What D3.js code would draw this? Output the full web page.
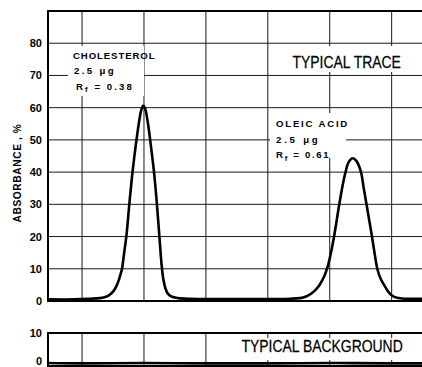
<!DOCTYPE html>
<html>
<head>
<meta charset="utf-8">
<script src="https://cdn.jsdelivr.net/npm/d3@7"></script>
<style>
  html, body { margin: 0; padding: 0; background: #fff; }
  svg { display: block; }
</style>
</head>
<body>
<svg id="chart" width="422" height="367"></svg>
<script>
// ---- data ----
const xGrid = [1, 2, 3, 4, 5, 6];                 // vertical grid positions (scan units)
const yTicksTop = [0, 10, 20, 30, 40, 50, 60, 70, 80];
const yTicksBottom = [0, 10];
// typical trace (position in scan units, absorbance %)
const traceX = [0.45, 0.886, 1.128, 1.290, 1.387, 1.451, 1.516, 1.564, 1.605, 1.645, 1.677, 1.718, 1.763, 1.818, 1.879, 1.928, 1.960, 1.989, 2.017, 2.057, 2.113, 2.162, 2.205, 2.247, 2.286, 2.315, 2.348, 2.388, 2.453, 2.549, 2.743, 3.712, 4.358, 4.520, 4.617, 4.709, 4.778, 4.843, 4.907, 4.964, 5.020, 5.074, 5.154, 5.214, 5.255, 5.303, 5.371, 5.432, 5.505, 5.545, 5.594, 5.678, 5.731, 5.768, 5.820, 5.884, 5.941, 6.006, 6.086, 6.215, 6.49];
const traceY = [0.5, 0.5, 0.7, 0.9, 1.3, 2.0, 3.3, 5.0, 7.2, 10, 14.5, 20.5, 30, 40.5, 50, 56.5, 59.5, 60.6, 59.8, 56, 48, 40, 31, 20.5, 11, 6.5, 3.8, 2.2, 1.3, 0.9, 0.7, 0.6, 0.7, 0.9, 1.4, 2.4, 3.6, 5.2, 7.5, 10.5, 15, 20.5, 30, 36.5, 40, 43, 44.3, 43.4, 40, 35.5, 30, 20.5, 14, 10, 7, 4.8, 3.0, 1.7, 1.0, 0.7, 0.7];
// typical background
const bgX = [0.45, 1.0, 2.0, 3.0, 4.0, 5.0, 6.0, 6.49];
const bgY = [0.9, 0.8, 0.9, 0.8, 0.8, 0.9, 0.8, 0.8];

// ---- layout ----
const svg = d3.select("#chart");
const left = 48, right = 422;
const x = d3.scaleLinear().domain([0.45, 6.49]).range([left, right]);
const yTop = d3.scaleLinear().domain([0, 90]).range([301, 11]);
const yBot = d3.scaleLinear().domain([0, 10]).range([366, 333]);

const gridColor = "#1a1a1a";
const font = "'Liberation Sans', Arial, sans-serif";

// ---- top panel grid ----
const gTop = svg.append("g");
gTop.selectAll("line.h").data(yTicksTop.filter(d => d > 0)).join("line")
  .attr("x1", left).attr("x2", right)
  .attr("y1", d => yTop(d)).attr("y2", d => yTop(d))
  .attr("stroke", gridColor).attr("stroke-width", 1);
gTop.selectAll("line.v").data(xGrid).join("line")
  .attr("x1", d => x(d)).attr("x2", d => x(d))
  .attr("y1", yTop(90)).attr("y2", yTop(0))
  .attr("stroke", gridColor).attr("stroke-width", 1);

// ---- bottom panel grid ----
const gBot = svg.append("g");
gBot.selectAll("line.v").data(xGrid).join("line")
  .attr("x1", d => x(d)).attr("x2", d => x(d))
  .attr("y1", yBot(10)).attr("y2", yBot(0))
  .attr("stroke", gridColor).attr("stroke-width", 1);

// ---- label boxes (white backgrounds that break the grid) ----
const boxes = [
  [68, 46, 76, 50],
  [288, 46, 113, 26],
  [270, 113, 76, 45],
  [236, 338, 170, 22]
];
svg.append("g").selectAll("rect").data(boxes).join("rect")
  .attr("x", d => d[0]).attr("y", d => d[1])
  .attr("width", d => d[2]).attr("height", d => d[3])
  .attr("fill", "#fff");

// ---- frames / axes lines ----
svg.append("line").attr("x1", left).attr("x2", right).attr("y1", yTop(90)).attr("y2", yTop(90))
  .attr("stroke", "#000").attr("stroke-width", 1.8);
svg.append("line").attr("x1", left).attr("x2", right).attr("y1", yTop(0)).attr("y2", yTop(0))
  .attr("stroke", "#000").attr("stroke-width", 2);
svg.append("line").attr("x1", left).attr("x2", left).attr("y1", yTop(90) - 1).attr("y2", yTop(0) + 1)
  .attr("stroke", "#000").attr("stroke-width", 2);
svg.append("line").attr("x1", left).attr("x2", right).attr("y1", yBot(10)).attr("y2", yBot(10))
  .attr("stroke", "#000").attr("stroke-width", 1.8);
svg.append("line").attr("x1", left).attr("x2", right).attr("y1", yBot(0)).attr("y2", yBot(0))
  .attr("stroke", "#000").attr("stroke-width", 2);
svg.append("line").attr("x1", left).attr("x2", left).attr("y1", yBot(10) - 1).attr("y2", yBot(0) + 1)
  .attr("stroke", "#000").attr("stroke-width", 2);

// ---- axes tick labels ----
const axT = svg.append("g").attr("transform", `translate(${left},0)`)
  .call(d3.axisLeft(yTop).tickValues(yTicksTop).tickSize(0).tickPadding(6).tickFormat(d3.format("d")));
axT.select(".domain").remove();
axT.selectAll("text").attr("font-family", font).attr("font-weight", "bold").attr("font-size", 11).attr("fill", "#000");
const axB = svg.append("g").attr("transform", `translate(${left},0)`)
  .call(d3.axisLeft(yBot).tickValues(yTicksBottom).tickSize(0).tickPadding(6).tickFormat(d3.format("d")));
axB.select(".domain").remove();
axB.selectAll("text").attr("font-family", font).attr("font-weight", "bold").attr("font-size", 11).attr("fill", "#000");
// keep the bottom "0" inside the picture
axB.selectAll(".tick").filter(d => d === 0).select("text").attr("dy", "-0.16em");

// y axis title
svg.append("text")
  .attr("transform", "translate(20.5,173) rotate(-90)")
  .attr("text-anchor", "middle")
  .attr("font-family", font).attr("font-weight", "bold").attr("font-size", 10.2)
  .attr("letter-spacing", 0.6)
  .text("ABSORBANCE , %");

// ---- traces ----
const lineTop = d3.line().x((d, i) => x(traceX[i])).y(d => yTop(d)).curve(d3.curveCatmullRom.alpha(0.5));
svg.append("path").datum(traceY).attr("d", lineTop)
  .attr("fill", "none").attr("stroke", "#000").attr("stroke-width", 2.6).attr("stroke-linejoin", "round");
const lineBot = d3.line().x((d, i) => x(bgX[i])).y(d => yBot(d)).curve(d3.curveMonotoneX);
svg.append("path").datum(bgY).attr("d", lineBot)
  .attr("fill", "none").attr("stroke", "#000").attr("stroke-width", 2.6);

// ---- annotations ----
function annot(xp, yp, lines) {
  const t = svg.append("g");
  lines.forEach((ln, i) => {
    const tx = t.append("text").attr("x", xp + (ln.dx || 0)).attr("y", yp + i * 15.5)
      .attr("font-family", font).attr("font-weight", "bold").attr("font-size", 9.6)
      .attr("letter-spacing", ln.ls).attr("fill", "#000");
    if (ln.sub) {
      tx.append("tspan").text("R");
      tx.append("tspan").attr("font-size", 7.5).attr("dy", 2.5).text("f");
      tx.append("tspan").attr("dy", -2.5).text(ln.text);
    } else {
      tx.text(ln.text);
    }
  });
}
annot(73, 58.5, [{text: "CHOLESTEROL", ls: 0.9}, {text: "2.5 μg", ls: 2.4, dx: 1}, {text: " = 0.38", sub: true, dx: 3, ls: 2.1}]);
annot(276, 127, [{text: "OLEIC ACID", ls: 1.8}, {text: "2.5  μg", ls: 2.8}, {text: " = 0.61", sub: true, ls: 1.7}]);

// condensed heading texts
svg.append("text").attr("transform", "translate(292.5,67.5) scale(0.82,1)")
  .attr("font-family", font).attr("font-size", 17)
  .attr("fill", "#000").attr("stroke", "#000").attr("stroke-width", 0.25)
  .text("TYPICAL TRACE");
svg.append("text").attr("transform", "translate(241.5,351.7) scale(0.82,1)")
  .attr("font-family", font).attr("font-size", 17)
  .attr("fill", "#000").attr("stroke", "#000").attr("stroke-width", 0.25)
  .text("TYPICAL BACKGROUND");
</script>
</body>
</html>
